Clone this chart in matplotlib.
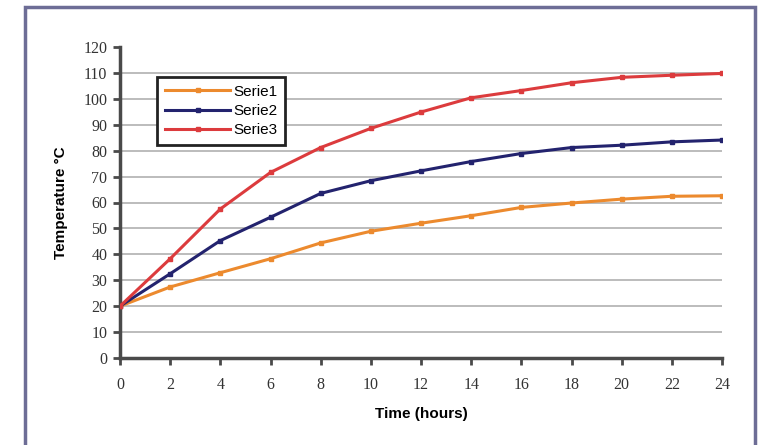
import matplotlib
matplotlib.use("Agg")
import matplotlib.pyplot as plt
from matplotlib.patches import Rectangle

# data
hours = [0, 2, 4, 6, 8, 10, 12, 14, 16, 18, 20, 22, 24]
serie1 = [20, 27.4, 32.9, 38.3, 44.4, 48.9, 52.0, 54.9, 58.1, 59.8, 61.3, 62.4, 62.6]
serie2 = [20, 32.5, 45.3, 54.3, 63.5, 68.4, 72.2, 75.8, 78.9, 81.2, 82.1, 83.4, 84.1]
serie3 = [20, 38.3, 57.5, 71.6, 81.2, 88.6, 94.9, 100.4, 103.2, 106.2, 108.3, 109.1, 109.8]
names = ["Serie1", "Serie2", "Serie3"]
colors = ["#ec8a2e", "#23236e", "#dc3b3d"]
yticks = list(range(0, 121, 10))
xticks = hours

fig = plt.figure(figsize=(7.67, 4.45), dpi=100)
fig.patch.set_facecolor("white")

# outer frame around the chart
fig.add_artist(Rectangle((25/767, -0.05), 730/767, 1.05 - 7/445,
                         transform=fig.transFigure, fill=False,
                         edgecolor="#6d6d96", linewidth=2.5))

ax = fig.add_axes([120/767, 87/445, 602/767, 311/445])
for vals, name, c in zip([serie1, serie2, serie3], names, colors):
    ax.plot(hours, vals, color=c, lw=2.2, marker="s", ms=3.2, label=name, zorder=3)

ax.set_xlim(0, 24)
ax.set_ylim(0, 120)
ax.set_xticks(xticks)
ax.set_yticks(yticks)
for yv in yticks[1:-1]:
    ax.axhline(yv, color="#b0b0b0", lw=1.2, zorder=1)

for s in ["top", "right"]:
    ax.spines[s].set_visible(False)
for s in ["left", "bottom"]:
    ax.spines[s].set_color("#4a4a4a")
    ax.spines[s].set_linewidth(2.5)
ax.tick_params(direction="out", length=5, width=2, color="#4a4a4a",
               labelsize=11.5, pad=4)
for lbl in ax.get_xticklabels() + ax.get_yticklabels():
    lbl.set_family("Liberation Serif")
    lbl.set_color("#333333")
ax.tick_params(axis="x", pad=9)

ax.set_xlabel("Time (hours)", family=["Liberation Sans Narrow", "Liberation Sans"],
              fontweight="bold", fontsize=11, labelpad=10)
ax.set_ylabel("Temperature °C", family=["Liberation Sans Narrow", "Liberation Sans"],
              fontweight="bold", fontsize=11, labelpad=11)

leg = ax.legend(loc="upper left", bbox_to_anchor=(0.0615, 0.9035), borderaxespad=0,
                fancybox=False, framealpha=1, edgecolor="#222222",
                prop={"family": ["Liberation Sans Narrow", "Liberation Sans"], "size": 11},
                handlelength=4.3, handletextpad=0.2, labelspacing=0.35,
                borderpad=0.5)
leg.get_frame().set_linewidth(2)

fig.savefig("out.png", dpi=100)
